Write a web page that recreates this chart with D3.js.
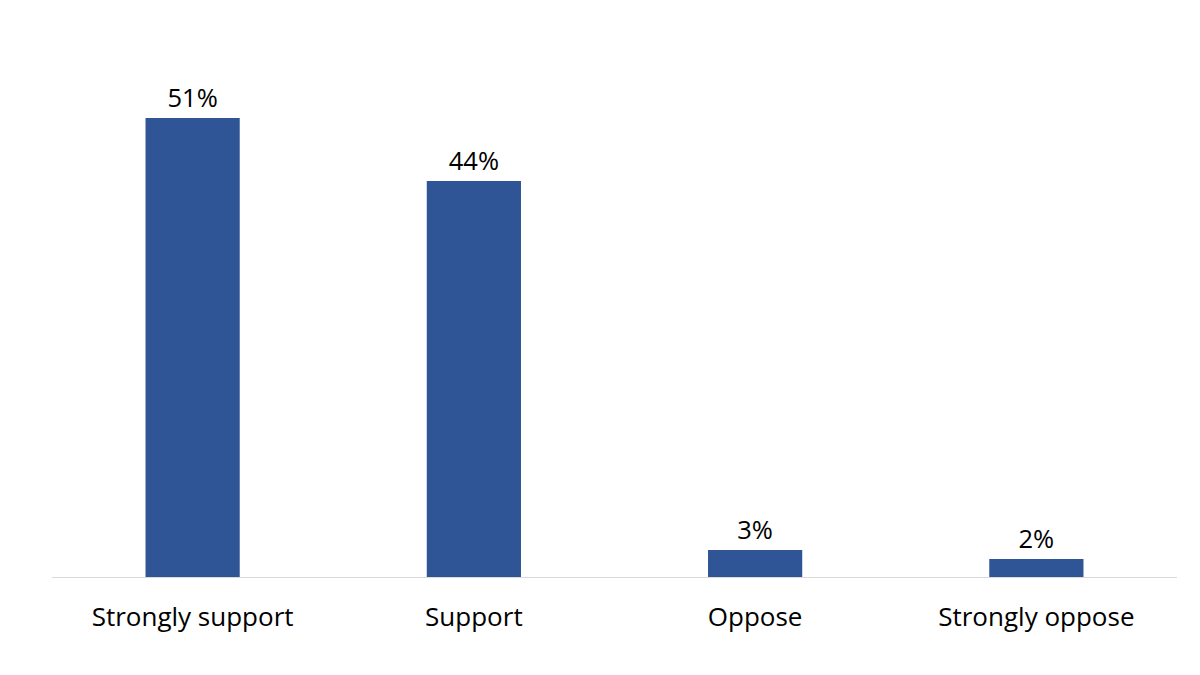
<!DOCTYPE html>
<html lang="en">
<head>
	<meta charset="UTF-8">
	<title>Support chart</title>
	<script src="https://d3js.org/d3.v7.min.js"></script>
	<style>
		body, html {
			margin: 0;
			padding: 0;
			background: #fff;
			overflow: hidden;
		}
		svg {
			display: block;
		}
		.bar {
			fill: #2F5597;
		}
		.value-label, .cat-label {
			font-family: "Open Sans", sans-serif;
			fill: #000;
			text-anchor: middle;
		}
		.value-label {
			font-size: 25.5px;
		}
		.cat-label {
			font-size: 26px;
		}
	</style>
</head>
<body>
<div id="chart"></div>
	<script>
		// Data
		const categories = ["Strongly support", "Support", "Oppose", "Strongly oppose"];
		const values = [51, 44, 3, 2];

		const width = 1200;
		const height = 675;
		const baseline = 577;

		const svg = d3.select("#chart")
			.append("svg")
			.attr("width", width)
			.attr("height", height);

		const x = d3.scaleBand()
			.domain(categories)
			.range([52, 1177])
			.paddingInner(0.665)
			.paddingOuter(0.3325);

		// 9px per percentage point
		const y = d3.scaleLinear()
			.domain([0, 60])
			.range([baseline, baseline - 540]);

		const rows = categories.map((c, i) => ({ cat: c, val: values[i] }));

		svg.selectAll(".bar")
			.data(rows)
			.enter()
			.append("rect")
			.attr("class", "bar")
			.attr("x", d => x(d.cat))
			.attr("y", d => y(d.val))
			.attr("width", x.bandwidth())
			.attr("height", d => y(0) - y(d.val));

		// baseline axis
		svg.append("line")
			.attr("x1", 52)
			.attr("x2", 1177)
			.attr("y1", baseline + 0.5)
			.attr("y2", baseline + 0.5)
			.attr("stroke", "#d9d9d9")
			.attr("stroke-width", 1);

		svg.selectAll(".value-label")
			.data(rows)
			.enter()
			.append("text")
			.attr("class", "value-label")
			.attr("x", d => x(d.cat) + x.bandwidth() / 2)
			.attr("y", d => y(d.val) - 11)
			.text(d => d.val + "%");

		svg.selectAll(".cat-label")
			.data(rows)
			.enter()
			.append("text")
			.attr("class", "cat-label")
			.attr("x", d => x(d.cat) + x.bandwidth() / 2)
			.attr("y", baseline + 49)
			.text(d => d.cat);
	</script>
</body>
</html>
